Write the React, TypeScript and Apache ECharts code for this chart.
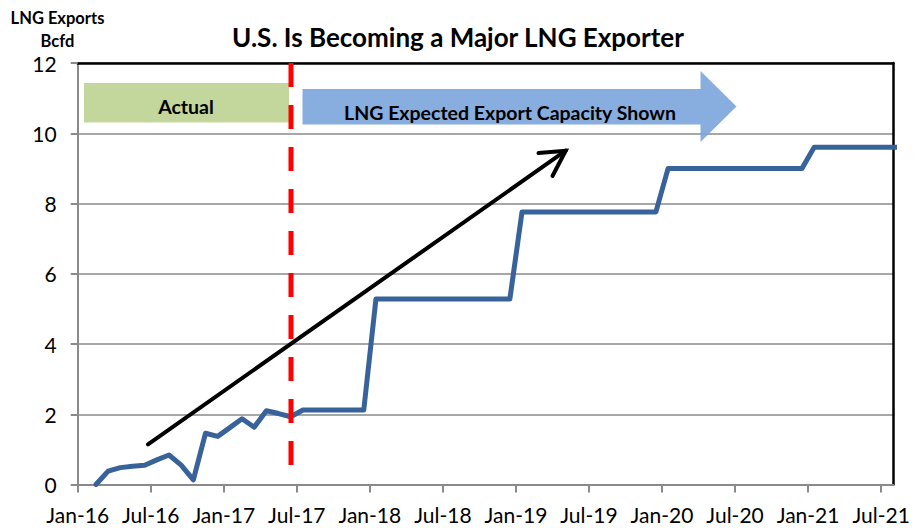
import React, { useEffect, useRef } from "react";
import * as echarts from "echarts";

// Tick labels every 6 months, starting at month index 0 (Jan-16)
const tickLabels: string[] = [
  "Jan-16", "Jul-16", "Jan-17", "Jul-17", "Jan-18", "Jul-18",
  "Jan-19", "Jul-19", "Jan-20", "Jul-20", "Jan-21", "Jul-21",
];
const monthsPerTick = 6;
const totalMonths = 67; // axis runs Jan-16 .. start of Aug-21

// Monthly LNG exports (Bcfd), Jan-16 .. Aug-21, plotted mid-month
const exports2016: (number | null)[] = [null, 0, 0.38, 0.48, 0.52, 0.55, 0.7, 0.84, 0.55, 0.13, 1.46, 1.37];
const exports2017: number[] = [1.62, 1.87, 1.63, 2.1, 2.02, 1.93, 2.12, 2.12, 2.12, 2.12, 2.12, 2.12];
const exports2018: number[] = [5.28, 5.28, 5.28, 5.28, 5.28, 5.28, 5.28, 5.28, 5.28, 5.28, 5.28, 5.28];
const exports2019: number[] = [7.76, 7.76, 7.76, 7.76, 7.76, 7.76, 7.76, 7.76, 7.76, 7.76, 7.76, 7.76];
const exports2020: number[] = [9.0, 9.0, 9.0, 9.0, 9.0, 9.0, 9.0, 9.0, 9.0, 9.0, 9.0, 9.0];
const exports2021: number[] = [9.6, 9.6, 9.6, 9.6, 9.6, 9.6, 9.6, 9.6];

const yMin = 0;
const yMax = 12;
const yInterval = 2;

const titleText = "U.S. Is Becoming a Major LNG Exporter";
const yAxisTitle = ["LNG Exports", "Bcfd"];
const actualLabel = "Actual";
const forecastLabel = "LNG Expected Export Capacity Shown";

const FONT = "Lato, 'Open Sans', sans-serif";

export default function App() {
  const ref = useRef<HTMLDivElement>(null);

  useEffect(() => {
    if (!ref.current) return;
    const chart = echarts.init(ref.current, undefined, { renderer: "svg" });

    const allValues = [
      ...exports2016, ...exports2017, ...exports2018,
      ...exports2019, ...exports2020, ...exports2021,
    ];
    const seriesData = allValues.map((v, i) => [i + 0.5, v]);
    const tickValues = tickLabels.map((_, i) => i * monthsPerTick);

    const option: any = {
      animation: false,
      backgroundColor: "#ffffff",
      textStyle: { fontFamily: FONT },
      title: {
        text: titleText,
        left: "center",
        top: 19,
        textStyle: { fontFamily: FONT, fontWeight: "bold", fontSize: 26, color: "#000000" },
      },
      grid: {
        left: 77.7,
        right: 22.7,
        top: 63,
        bottom: 43.5,
        containLabel: false,
        outerBoundsMode: "none",
      },
      xAxis: [
        {
          type: "value",
          min: 0,
          max: totalMonths,
          interval: monthsPerTick,
          splitLine: { show: false },
          axisLine: { show: true, lineStyle: { color: "#8a8a8a", width: 2 } },
          axisTick: {
            show: true,
            length: 8,
            customValues: tickValues,
            lineStyle: { color: "#8a8a8a", width: 2 },
          },
          axisLabel: {
            customValues: tickValues,
            formatter: (v: number) => tickLabels[Math.round(v / monthsPerTick)] ?? "",
            fontFamily: FONT,
            fontSize: 21,
            color: "#000000",
            margin: 19,
            hideOverlap: false,
          },
        },
        {
          type: "value",
          position: "top",
          min: 0,
          max: totalMonths,
          axisLine: { show: true, onZero: false, lineStyle: { color: "#000000", width: 2.5 } },
          axisTick: { show: false },
          axisLabel: { show: false },
          splitLine: { show: false },
        },
      ],
      yAxis: [
        {
          type: "value",
          min: yMin,
          max: yMax,
          interval: yInterval,
          axisLine: { show: true, lineStyle: { color: "#8a8a8a", width: 2 } },
          axisTick: { show: true, length: 7, lineStyle: { color: "#8a8a8a", width: 2 } },
          splitLine: { show: true, lineStyle: { color: "#8a8a8a", width: 1.5 } },
          axisLabel: { fontFamily: FONT, fontSize: 21, color: "#000000", margin: 21 },
        },
        {
          type: "value",
          position: "right",
          min: yMin,
          max: yMax,
          axisLine: { show: true, onZero: false, lineStyle: { color: "#000000", width: 2.5 } },
          axisTick: { show: false },
          axisLabel: { show: false },
          splitLine: { show: false },
        },
      ],
      series: [
        {
          type: "line",
          name: "LNG Exports",
          xAxisIndex: 0,
          yAxisIndex: 0,
          data: seriesData,
          showSymbol: false,
          connectNulls: false,
          clip: true,
          lineStyle: { color: "#38629a", width: 5, join: "round", cap: "round" },
          z: 3,
        },
      ],
      graphic: [
        // y axis title
        {
          type: "text",
          x: 57.5,
          y: 17.5,
          style: {
            text: yAxisTitle[0],
            fontFamily: FONT,
            fontWeight: "bold",
            fontSize: 16.5,
            fill: "#000000",
            align: "center",
            verticalAlign: "middle",
          },
          z: 10,
        },
        {
          type: "text",
          x: 57.5,
          y: 40.5,
          style: {
            text: yAxisTitle[1],
            fontFamily: FONT,
            fontWeight: "bold",
            fontSize: 16.5,
            fill: "#000000",
            align: "center",
            verticalAlign: "middle",
          },
          z: 10,
        },
        // "Actual" box
        {
          type: "rect",
          shape: { x: 84, y: 83, width: 205, height: 39.5 },
          style: { fill: "#c3d69b" },
          z: 5,
        },
        {
          type: "text",
          x: 186,
          y: 106.5,
          style: {
            text: actualLabel,
            fontFamily: FONT,
            fontWeight: "bold",
            fontSize: 19.5,
            fill: "#000000",
            align: "center",
            verticalAlign: "middle",
          },
          z: 6,
        },
        // Forecast arrow
        {
          type: "polygon",
          shape: {
            points: [
              [302.5, 89], [700.5, 89], [700.5, 71], [736.5, 106.5],
              [700.5, 142], [700.5, 124.5], [302.5, 124.5],
            ],
          },
          style: { fill: "#7aa5dc", opacity: 0.9 },
          z: 5,
        },
        {
          type: "text",
          x: 510,
          y: 112.5,
          style: {
            text: forecastLabel,
            fontFamily: FONT,
            fontWeight: "bold",
            fontSize: 19.5,
            fill: "#000000",
            align: "center",
            verticalAlign: "middle",
          },
          z: 6,
        },
        // red dashed divider
        {
          type: "line",
          shape: { x1: 291, y1: 63, x2: 291, y2: 466 },
          style: { stroke: "#ff0000", lineWidth: 5, lineDash: [24, 18] },
          z: 7,
        },
        // black trend arrow
        {
          type: "polyline",
          shape: { points: [[148, 444.3], [565.7, 150.7]] },
          style: { stroke: "#000000", lineWidth: 4, lineCap: "round" },
          z: 7,
        },
        {
          type: "polyline",
          shape: { points: [[538.5, 153], [565.7, 150.7], [552.5, 176]] },
          style: { stroke: "#000000", lineWidth: 4, lineCap: "round", lineJoin: "miter", fill: null },
          z: 7,
        },
      ],
    };

    chart.setOption(option);
    return () => chart.dispose();
  }, []);

  return (
    <div
      ref={ref}
      style={{ position: "absolute", left: 0, top: 0, width: 916, height: 528 }}
    />
  );
}
